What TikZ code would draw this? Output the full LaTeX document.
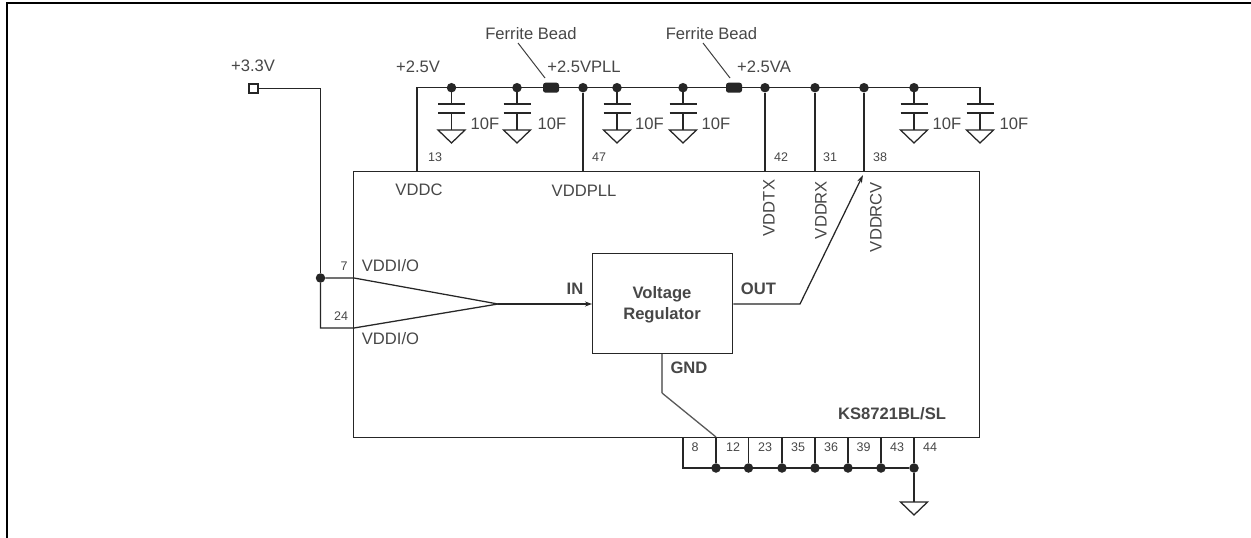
\documentclass[tikz,border=0pt]{standalone}
\usepackage{fontspec}
\setmainfont{Liberation Sans}
\usetikzlibrary{arrows.meta}
\tikzset{
  x=1pt,y=-1pt,
  wire/.style={draw=black!85,line width=1.25pt},
  lbl/.style={font=\fontsize{16.6}{19}\selectfont,text=black!72,inner sep=0pt},
  pin/.style={font=\fontsize{12.5}{14}\selectfont,text=black!72,inner sep=0pt},
  blbl/.style={font=\bfseries\fontsize{16.6}{21}\selectfont,text=black!72,inner sep=0pt,align=center},
  dotn/.style={circle,fill=black!85,draw=none,minimum size=9.5pt,inner sep=0pt},
  chip/.style={draw=black!85,line width=1.25pt,inner sep=0pt},
  bead/.style={rectangle,rounded corners=2.5pt,fill=black!85,draw=none,minimum width=16pt,minimum height=10pt,inner sep=0pt},
}
\newcommand{\capgnd}[3]{%
  \coordinate (#1t) at (#2,#3);
  \coordinate (#1a) at (#2,104);
  \coordinate (#1b) at (#2,113);
  \coordinate (#1g) at (#2,130);
  \draw[wire] (#1t) -- (#1a);
  \draw[wire] ([xshift=-13.5pt]#1a) -- ([xshift=13.5pt]#1a);
  \draw[wire] ([xshift=-13.5pt]#1b) -- ([xshift=13.5pt]#1b);
  \draw[wire] (#1b) -- (#1g);
  \draw[wire,line join=miter] ([xshift=-13.5pt]#1g) -- ([xshift=13.5pt]#1g) -- ([yshift=-13pt]#1g) -- cycle;
}
\begin{document}
\begin{tikzpicture}
\useasboundingbox (0,0) rectangle (1251,538);
\fill[white] (0,0) rectangle (1251,538);
% outer frame
\draw[black,line width=2.6pt] (7,538) -- (7,3) -- (1251,3);
% chip
\node[chip,minimum width=626pt,minimum height=266pt,anchor=north west] (chip) at (353,171) {};
% regulator
\node[chip,minimum width=140pt,minimum height=100pt,anchor=north west] (reg) at (592,253) {};
\node[blbl] (regt) at (662,304.5) {Voltage\\Regulator};
% power rail
\coordinate (railL) at (417,87.7);
\coordinate (railR) at (980,87.7);
\node[bead] (bead1) at (551,87.7) {};
\node[bead] (bead2) at (734,87.7) {};
\draw[wire] (417,171) -- (railL) -- (bead1);
\draw[wire] (bead1) -- (bead2);
\draw[wire] (bead2) -- (railR) -- (980,104);
\capgnd{c1}{451.5}{87.7}
\capgnd{c2}{517}{87.7}
\capgnd{c3}{617}{87.7}
\capgnd{c4}{683}{87.7}
\capgnd{c5}{914}{87.7}
\capgnd{c6}{980}{87.7}
\foreach \n/\x in {d1/451.5,d2/517,d3/583,d4/617,d5/683,d6/765,d7/815,d8/864,d9/914}{
  \node[dotn] (\n) at (\x,87.7) {};
}
\draw[wire] (d3) -- (583,171);
\draw[wire] (d6) -- (765,171);
\draw[wire] (d7) -- (815,171);
\draw[wire] (d8) -- (864,171);
% bead callouts
\node[lbl] (fb1) at (531,33.5) {Ferrite Bead};
\node[lbl] (fb2) at (711.5,33.5) {Ferrite Bead};
\draw[black!75,line width=1pt] (518,43) -- (545,78);
\draw[black!75,line width=1pt] (703,43) -- (730,78);
% rail labels
\node[lbl] at (253,66) {+3.3V};
\node[lbl] at (418,66.5) {+2.5V};
\node[lbl] at (584,67) {+2.5VPLL};
\node[lbl] at (764,67) {+2.5VA};
\foreach \x in {485,552,649.5,716,947,1014}{
  \node[lbl] at (\x,123.5) {10F};
}
% +3.3V input
\node[draw=black!85,line width=1.2pt,fill=white,minimum size=9pt,inner sep=0pt] (src) at (253.5,88.5) {};
\node[dotn] (dio) at (320.5,278) {};
\draw[wire] (src) -- (320.5,88.5) -- (dio);
\coordinate (p7) at (354,278);
\coordinate (p24) at (354,328);
\coordinate (join) at (498,304);
\draw[wire] (dio) -- (p7) -- (join);
\draw[wire] (dio) -- (320.5,328) -- (p24) -- (join);
\draw[wire,-{Stealth[length=7pt,width=5pt]}] (join) -- (reg.west |- join);
% out
\coordinate (oc) at (800,304);
\draw[wire,-{Stealth[length=8pt,width=5pt]}] (reg.east |- oc) -- (oc) -- (863,175);
% gnd
\draw[black!50,line width=1.6pt] (reg.south -| 662,0) -- (662,393);
\draw[black!65,line width=1.3pt] (662,393) -- (716,437);
% pin numbers
\node[pin] at (435,157) {13};
\node[pin] at (599,157) {47};
\node[pin] at (781,157) {42};
\node[pin] at (830,157) {31};
\node[pin] at (880,157) {38};
\node[pin] at (344,266) {7};
\node[pin] at (341,316) {24};
\node[lbl] at (419,190) {VDDC};
\node[lbl] at (584,190.5) {VDDPLL};
\node[lbl] at (390.5,266) {VDDI/O};
\node[lbl] at (390.5,339) {VDDI/O};
\node[lbl,rotate=90] at (769,208) {VDDTX};
\node[lbl,rotate=90] at (821,210) {VDDRX};
\node[lbl,rotate=90] at (876,217) {VDDRCV};
\node[blbl] at (575,289) {IN};
\node[blbl] at (758.5,289) {OUT};
\node[blbl] at (689,368) {GND};
\node[blbl] at (892,414) {KS8721BL/SL};
% bottom pins
\coordinate (gl) at (683,468);
\foreach \n/\x in {g12/716,g23/748.5,g35/782,g36/815,g39/848,g43/881,g44/914}{
  \node[dotn] (\n) at (\x,468) {};
  \draw[wire] (\x,437) -- (\n);
}
\draw[wire] (683,437) -- (gl) -- (g44);
\foreach \t/\x in {8/695,12/733,23/765,35/798,36/831,39/863.5,43/897,44/930}{
  \node[pin] at (\x,447) {\t};
}
\coordinate (gg) at (914,502);
\draw[wire] (g44) -- (gg);
\draw[wire,line join=miter] ([xshift=-13.5pt]gg) -- ([xshift=13.5pt]gg) -- ([yshift=-13pt]gg) -- cycle;
\end{tikzpicture}
\end{document}
